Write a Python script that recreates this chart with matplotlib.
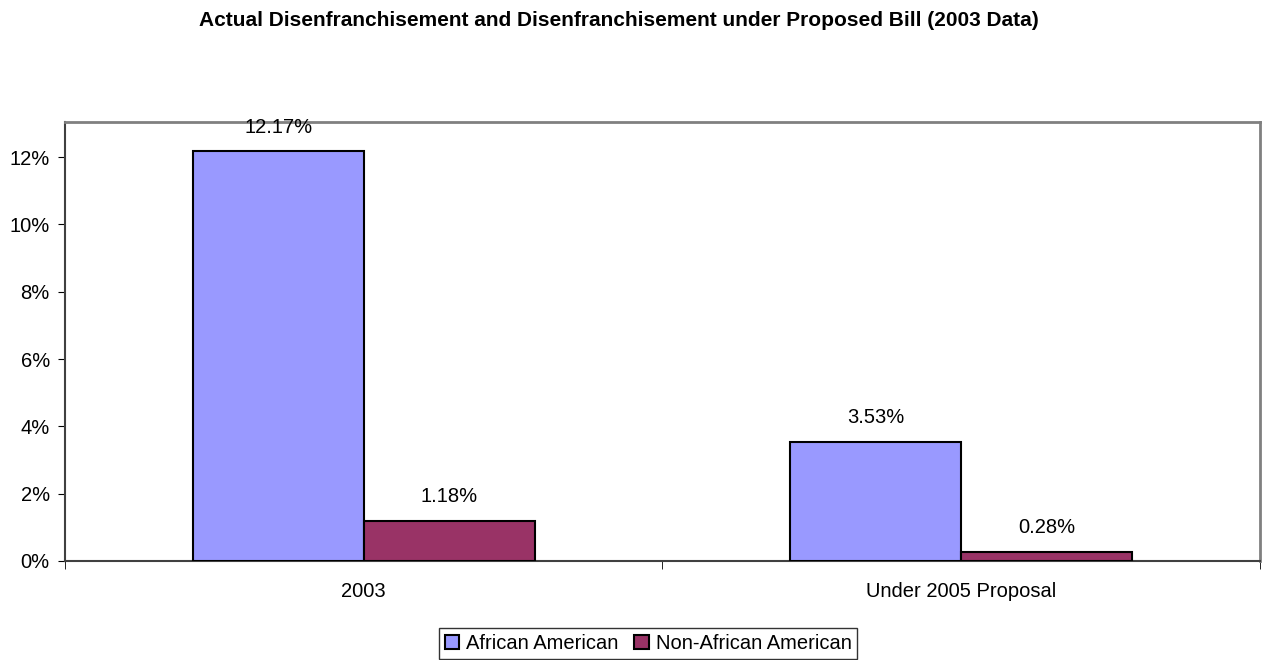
import matplotlib
matplotlib.use("Agg")
import matplotlib.pyplot as plt
import numpy as np

plt.rcParams.update({"font.family": ["Liberation Sans", "DejaVu Sans"], "font.size": 14.5})

categories = ["2003", "Under 2005 Proposal"]
series_names = ["African American", "Non-African American"]
african_american = [12.17, 3.53]
non_african_american = [1.18, 0.28]
ytick_vals = [0, 2, 4, 6, 8, 10, 12]

COLORS = ["#9999FF", "#993366"]


def main():
    fig = plt.figure(figsize=(12.63, 6.6), dpi=100)
    ax = fig.add_axes([0.0515, 0.15, 0.946, 0.665])

    x = np.arange(len(categories))
    w = 0.286
    for i, (vals, name) in enumerate(zip([african_american, non_african_american], series_names)):
        xs = x + (i - 0.5) * w
        bars = ax.bar(xs, vals, width=w, color=COLORS[i], edgecolor="black", linewidth=1.5,
                      label=name, zorder=3)
        for b, v in zip(bars, vals):
            ax.annotate(f"{v:.2f}%", (b.get_x() + b.get_width() / 2, v), xytext=(0, 17.5),
                        textcoords="offset points", ha="center", va="center", fontsize=14.5)

    ax.set_xlim(-0.5, 1.5)
    ax.set_ylim(0, 13.04)
    ax.set_yticks(ytick_vals)
    ax.set_yticklabels([f"{v}%" for v in ytick_vals], fontsize=14.5)
    ax.set_xticks(x)
    ax.set_xticklabels(categories, fontsize=14.5)
    ax.tick_params(axis="x", which="major", length=0, pad=15)
    ax.set_xticks([-0.5, 0.5, 1.5], minor=True)
    ax.tick_params(axis="x", which="minor", length=6, direction="out", color="black")
    ax.tick_params(axis="y", length=5, direction="out", pad=6)

    for s in ["top", "right"]:
        ax.spines[s].set_color("#808080")
        ax.spines[s].set_linewidth(2)
    for s in ["left", "bottom"]:
        ax.spines[s].set_color("#404040")
        ax.spines[s].set_linewidth(1.5)

    fig.text(0.49, 1 - 20 / 660, "Actual Disenfranchisement and Disenfranchisement under Proposed Bill (2003 Data)",
             ha="center", va="center", fontsize=15, fontweight="bold")

    leg = ax.legend(loc="center", bbox_to_anchor=(0.488, -0.188), ncol=2, frameon=True,
                    fancybox=False, fontsize=14.5, handlelength=0.7, handleheight=0.7,
                    handletextpad=0.35, columnspacing=0.8, borderpad=0.3, borderaxespad=0)
    leg.get_frame().set_edgecolor("black")
    leg.get_frame().set_linewidth(1)

    fig.savefig("out.png", dpi=100)
    plt.close(fig)


if __name__ == "__main__":
    main()
